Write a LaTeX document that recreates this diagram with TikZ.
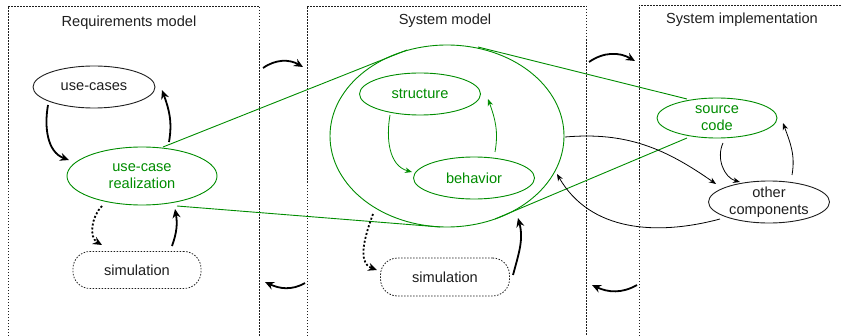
\documentclass[tikz,border=0pt]{standalone}
\usepackage{fontspec}
\setmainfont{Liberation Sans}
\usetikzlibrary{arrows.meta,calc,shapes.geometric}
\definecolor{grn}{RGB}{0,140,0}
\definecolor{txt}{RGB}{30,30,30}
\begin{document}
\begin{tikzpicture}[x=1pt,y=1pt,
  font=\fontsize{14.6}{17.5}\selectfont,
  ell/.style={draw=txt, ellipse, inner sep=0pt, line width=0.9pt},
  gell/.style={ell, draw=grn},
  lab/.style={align=center, text=txt, inner sep=0pt},
  glab/.style={lab, text=grn},
  simbox/.style={draw=txt, rounded corners=17pt, dash pattern=on 1.5pt off 1.5pt, line width=0.8pt, text=txt, inner sep=0pt},
  region/.style={draw=txt, dash pattern=on 1.5pt off 1.5pt, line width=0.8pt},
  thk/.style={draw=black, line width=1.8pt, -{Stealth[length=9pt,width=8pt]}},
  thkdot/.style={thk, dash pattern=on 2pt off 2pt},
  thn/.style={draw=black, line width=0.8pt, -{Stealth[length=7pt,width=5.5pt]}},
  gthn/.style={thn, draw=grn},
  gline/.style={draw=grn, line width=0.9pt}
]
\useasboundingbox (0,0) rectangle (842,335);

% regions
\draw[region] (8,-10) -- (8,329) -- (259,329) -- (259,-10);
\draw[region] (307,-10) -- (307,329) -- (586,329) -- (586,-10);
\draw[region] (639,-10) -- (639,330) -- (850,330);
\node[lab] (t1) at (129,312) {Requirements model};
\node[lab] (t2) at (445,314) {System model};
\node[lab] (t3) at (742,315) {System implementation};

% nodes
\node[ell, minimum width=122, minimum height=42] (uc) at (94,248) {};
\node[lab] (ucT) at (uc) {use-cases};
\node[gell, minimum width=150, minimum height=58] (ucr) at (142,159) {};
\node[glab] (ucrT) at (ucr) {use-case\\realization};
\node[simbox, minimum width=128, minimum height=37] (sim1) at (137,65) {simulation};

\node[gell, minimum width=234, minimum height=182] (big) at (447,199) {};
\node[gell, minimum width=121, minimum height=42] (str) at (420,241) {};
\node[glab] (strT) at (str) {structure};
\node[gell, minimum width=121, minimum height=42] (beh) at (474,157) {};
\node[glab] (behT) at (beh) {behavior};
\node[simbox, minimum width=129, minimum height=38] (sim2) at (445,58) {simulation};

\node[gell, minimum width=120, minimum height=40] (src) at (717,217) {};
\node[glab] (srcT) at (src) {source\\code};
\node[ell, minimum width=121, minimum height=42] (oth) at (769,133) {};
\node[lab] (othT) at (oth) {other\\components};

% green zoom lines
\draw[gline] ($(ucr)+(21,29)$) -- ($(big)+(-40,86)$);
\draw[gline] ($(big)+(31,89)$) -- ($(src)+(-30,19)$);
\draw[gline] ($(ucr)+(35,-30)$) -- ($(big)+(-7,-91)$);
\draw[gline] ($(big)+(48,-83)$) -- ($(src)+(-30,-20)$);

% requirements model arrows
\draw[thk] ($(uc)+(-46,-18)$) to[out=-100,in=160] ($(ucr)+(-73,16)$);
\draw[thk] ($(ucr)+(27,34)$) to[out=80,in=-70] ($(uc)+(68,-3)$);
\draw[thkdot] ($(ucr)+(-40,-30)$) to[out=-135,in=150] ($(sim1)+(-35,25)$);
\draw[thk] ($(sim1)+(35,24)$) to[out=70,in=-80] ($(ucr)+(33,-33)$);

% inter-region arrows
\coordinate (a1s) at (263,267);
\coordinate (a1e) at (303,268);
\coordinate (a2s) at (305,52);
\coordinate (a2e) at (265,53);
\coordinate (a3s) at (589,273);
\coordinate (a3e) at (635,274);
\coordinate (a4s) at (637,50);
\coordinate (a4e) at (592,50);
\draw[thk] (a1s) to[out=35,in=150] (a1e);
\draw[thk] (a2s) to[out=-150,in=-25] (a2e);
\draw[thk] (a3s) to[out=35,in=150] (a3e);
\draw[thk] (a4s) to[out=-150,in=-25] (a4e);

% system model arrows
\draw[gthn] ($(str)+(-30,-21)$) to[out=-100,in=165] ($(beh)+(-62,6)$);
\draw[gthn] ($(beh)+(21,26)$) to[out=80,in=-70] ($(str)+(68,-5)$);
\draw[thkdot] ($(big)+(-74,-78)$) to[out=-110,in=160] ($(sim2)+(-68,7)$);
\draw[thk] ($(sim2)+(68,2)$) to[out=75,in=-75] ($(big)+(71,-82)$);

% implementation arrows
\draw[thn] ($(big)+(118,-1)$) to[out=5,in=145] ($(oth)+(-53,18)$);
\draw[thn] ($(oth)+(-49,-17)$) to[out=195,in=-60] ($(big)+(110,-38)$);
\draw[thn] ($(src)+(6,-25)$) to[out=-115,in=165] ($(oth)+(-29,20)$);
\draw[thn] ($(oth)+(23,27)$) to[out=80,in=-70] ($(src)+(66,-5)$);
\end{tikzpicture}
\end{document}
